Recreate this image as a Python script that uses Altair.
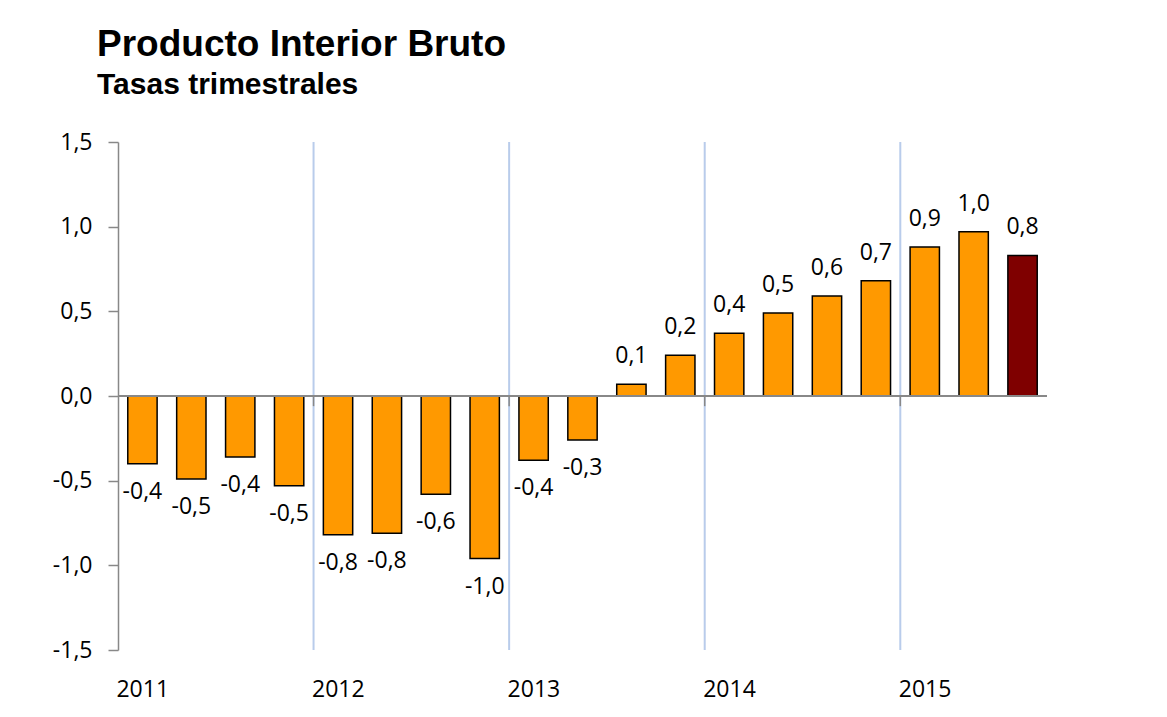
import altair as alt
import pandas as pd

quarters = ["2011-T1", "2011-T2", "2011-T3", "2011-T4",
            "2012-T1", "2012-T2", "2012-T3", "2012-T4",
            "2013-T1", "2013-T2", "2013-T3", "2013-T4",
            "2014-T1", "2014-T2", "2014-T3", "2014-T4",
            "2015-T1", "2015-T2", "2015-T3"]
values = [-0.40, -0.49, -0.36, -0.53,
          -0.82, -0.81, -0.58, -0.96,
          -0.38, -0.26, 0.07, 0.24,
          0.37, 0.49, 0.59, 0.68,
          0.88, 0.97, 0.83]
year_starts = ["2012-T1", "2013-T1", "2014-T1", "2015-T1"]

df = pd.DataFrame({"q": quarters, "v": values})
df_years = pd.DataFrame({"q": year_starts})

NUM_FONT = "Open Sans"
NUM_SIZE = 23
FMT = "replace(replace(format({}, '.1f'), '.', ','), '\u2212', '-')"
xscale = alt.Scale(domain=quarters, paddingInner=0.4, paddingOuter=0.2)

base = alt.Chart(df)

xaxis = alt.Axis(
    title=None, domain=False, ticks=False, grid=False,
    labelExpr="indexof(datum.value, 'T1') >= 0 ? substring(datum.value, 0, 4) : ''",
    labelAlign="left", labelOffset=-26, labelPadding=28,
    labelFont=NUM_FONT, labelFontSize=NUM_SIZE, labelColor="black", labelAngle=0,
)
yaxis = alt.Axis(
    title=None, values=[-1.5, -1.0, -0.5, 0.0, 0.5, 1.0, 1.5], grid=False,
    labelExpr=FMT.format("datum.value"),
    domainColor="#888888", domainWidth=1.5, tickColor="#888888", tickWidth=1.5, tickSize=10,
    labelPadding=16, labelFont=NUM_FONT, labelFontSize=NUM_SIZE, labelColor="black",
)

grid = alt.Chart(df_years).mark_rule(color="#B9CCEB", strokeWidth=2, xOffset=-9.8).encode(
    x=alt.X("q:N", scale=xscale, bandPosition=0, axis=xaxis),
)

bars = base.mark_bar(stroke="black", strokeWidth=1.5).encode(
    x=alt.X("q:N", scale=xscale, axis=xaxis),
    y=alt.Y("v:Q", scale=alt.Scale(domain=[-1.5, 1.5], nice=False, zero=False), axis=yaxis),
    color=alt.condition(alt.datum.q == "2015-T3", alt.value("#7F0000"), alt.value("#FF9900")),
)

zero = base.mark_rule(color="#888888", strokeWidth=1.5).encode(
    y=alt.datum(0),
)

zero_ticks = alt.Chart(df_years).mark_rule(color="#888888", strokeWidth=1.5, xOffset=-9.8).encode(
    x=alt.X("q:N", scale=xscale, bandPosition=0),
    y=alt.datum(0),
    y2=alt.datum(-0.06),
)

lab_base = base.transform_calculate(lab=FMT.format("datum.v"))

labels_pos = lab_base.transform_filter("datum.v >= 0").mark_text(
    font=NUM_FONT, fontSize=NUM_SIZE, baseline="middle", color="black", dy=-28
).encode(
    x=alt.X("q:N", scale=xscale),
    y=alt.Y("v:Q"),
    text="lab:N",
)

labels_neg = lab_base.transform_filter("datum.v < 0").mark_text(
    font=NUM_FONT, fontSize=NUM_SIZE, baseline="middle", color="black", dy=28
).encode(
    x=alt.X("q:N", scale=xscale),
    y=alt.Y("v:Q"),
    text="lab:N",
)

chart = alt.layer(grid, bars, zero, zero_ticks, labels_pos, labels_neg).properties(
    width=929, height=508,
    autosize=alt.AutoSizeParams(type="none"),
    padding={"left": 110, "top": 134, "right": 100, "bottom": 66},
    title=alt.TitleParams(
        "Producto Interior Bruto", subtitle="Tasas trimestrales",
        anchor="start", frame="group", dx=-21, offset=30,
        font="Liberation Sans", fontSize=37, fontWeight="bold", color="black",
        subtitleFont="Liberation Sans", subtitleFontSize=30, subtitleFontWeight="bold",
        subtitleColor="black", subtitlePadding=6,
    ),
).configure_view(stroke=None)

chart.save("out.html", embed_options={"renderer": "svg", "actions": False})
